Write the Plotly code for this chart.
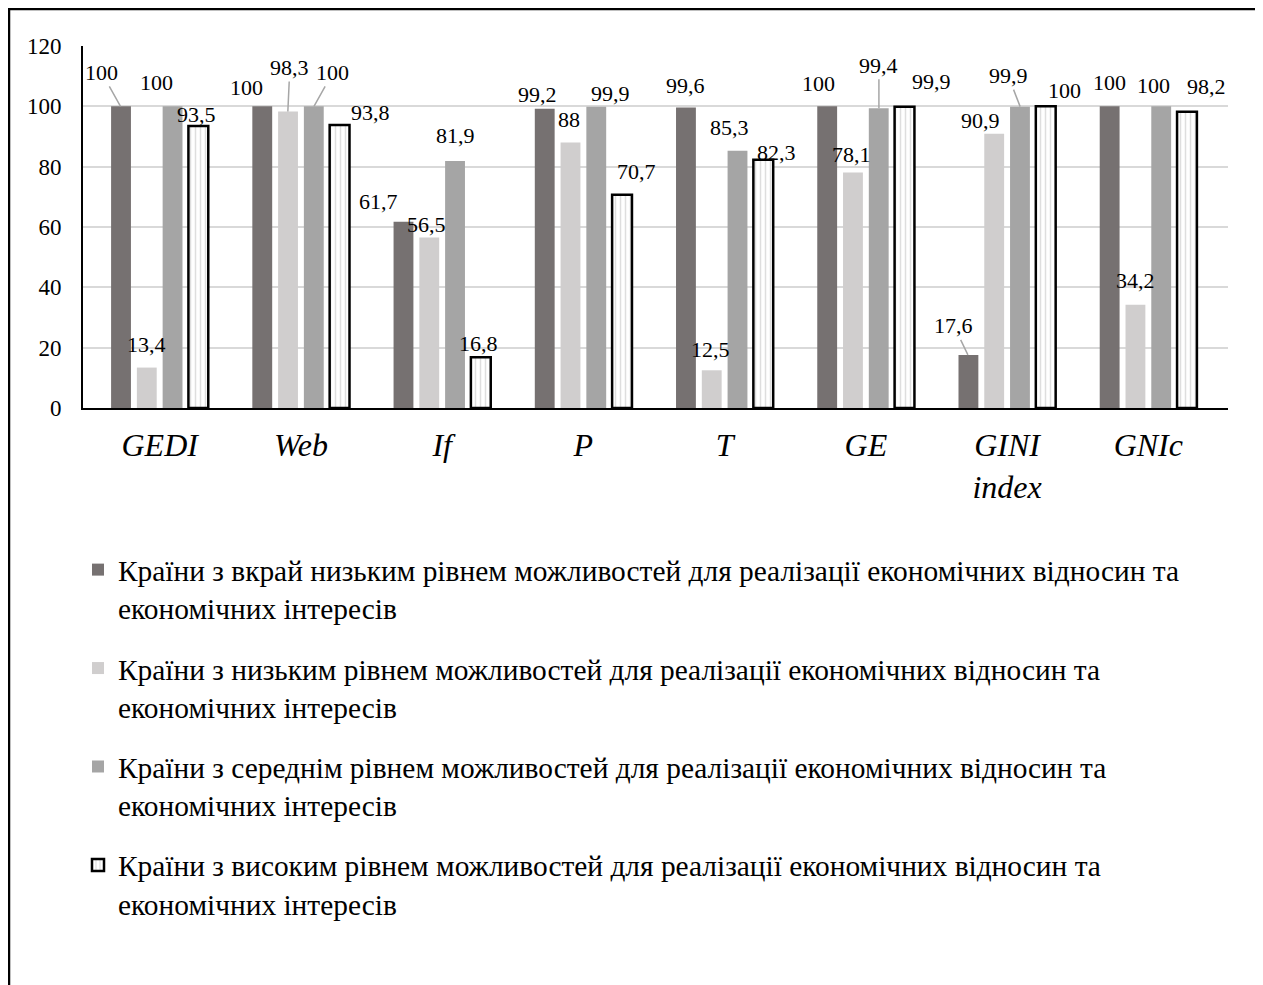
import plotly.graph_objects as go

categories = ["GEDI", "Web", "If", "P", "T", "GE", "GINI<br>index", "GNIc"]
series_names = [
    "Країни з вкрай низьким рівнем можливостей для реалізації економічних відносин та<br>економічних інтересів",
    "Країни з низьким рівнем можливостей для реалізації економічних відносин та<br>економічних інтересів",
    "Країни з середнім рівнем можливостей для реалізації економічних відносин та<br>економічних інтересів",
    "Країни з високим рівнем можливостей для реалізації економічних відносин та<br>економічних інтересів",
]
very_low = [100, 100, 61.7, 99.2, 99.6, 100, 17.6, 100]
low = [13.4, 98.3, 56.5, 88, 12.5, 78.1, 90.9, 34.2]
medium = [100, 100, 81.9, 99.9, 85.3, 99.4, 99.9, 100]
high = [93.5, 93.8, 16.8, 70.7, 82.3, 99.9, 100, 98.2]
y_ticks = [0, 20, 40, 60, 80, 100, 120]

# label placement style: pixel offset of each value label from the top centre
# of its bar (dx, dy), and whether a leader line is drawn
label_dx = [
    [-19, -15, -24, -7, 0, -8, -14, 0],
    [0, 2, -3, -1, -1, -1, -14, 0],
    [-16, 19, 0, 14, -8, 0, -12, -8],
    [-2, 30, -3, 14, 13, 26, 18, 19],
]
label_dy = [
    [-34, -19, -20, -14, -22, -23, -29, -24],
    [-23, -44, -13, -23, -21, -18, -13, -24],
    [-24, -34, -25, -13, -23, -43, -31, -21],
    [-11, -13, -14, -23, -7, -25, -16, -25],
]
leader = [
    [1, 0, 0, 0, 0, 0, 1, 0],
    [0, 1, 0, 0, 0, 0, 0, 0],
    [0, 1, 0, 0, 0, 1, 1, 0],
    [0, 0, 0, 0, 0, 0, 0, 0],
]

FONT = "Liberation Serif, Times New Roman, serif"


def fmt(v):
    return f"{v:g}".replace(".", ",")


series = [very_low, low, medium, high]
colors = ["#767171", "#d0cece", "#a5a5a5", "#ffffff"]

W, H = 1255, 977
L, R, T, B = 75, 35, 38, 577
BARGAP, BARGROUPGAP = 0.27, 0.23
pw, ph = W - L - R, H - T - B
slot = pw / len(categories) * (1 - BARGAP) / len(series)

fig = go.Figure()
for i, (name, vals, col) in enumerate(zip(series_names, series, colors)):
    marker = dict(color=col, line=dict(width=0))
    if i == 3:
        marker = dict(
            color="#ffffff",
            line=dict(color="#000000", width=2.5),
            pattern=dict(shape="|", fgcolor="#bdbdbd", bgcolor="#ffffff", size=5, solidity=0.3),
        )
    fig.add_trace(
        go.Bar(
            x=categories,
            y=vals,
            name=name,
            legendgroup=f"g{i}",
            marker=marker,
            hoverinfo="x+y",
        )
    )

annotations = []
for i, vals in enumerate(series):
    off = (i - (len(series) - 1) / 2) * slot
    for j, (cat, v) in enumerate(zip(categories, vals)):
        dx, dy = label_dx[i][j], label_dy[i][j]
        base = dict(
            x=cat,
            y=v,
            xref="x",
            yref="y",
            text=fmt(v),
            font=dict(family=FONT, size=22, color="#000000"),
        )
        if leader[i][j]:
            base.update(
                xshift=off,
                showarrow=True,
                arrowhead=0,
                arrowwidth=1.5,
                arrowcolor="#a6a6a6",
                standoff=0,
                ax=dx,
                ay=dy,
            )
        else:
            base.update(xshift=off + dx, yshift=-dy, showarrow=False)
        annotations.append(base)

fig.update_layout(
    width=W,
    height=H,
    margin=dict(l=L, r=R, t=T, b=B, autoexpand=False),
    paper_bgcolor="#ffffff",
    plot_bgcolor="#ffffff",
    barmode="group",
    bargap=BARGAP,
    bargroupgap=BARGROUPGAP,
    font=dict(family=FONT, color="#000000"),
    showlegend=True,
    annotations=annotations,
    legend=dict(
        xref="container",
        yref="container",
        x=70 / W,
        y=1 - 536 / H,
        xanchor="left",
        yanchor="top",
        orientation="v",
        valign="top",
        tracegroupgap=19,
        itemwidth=30,
        font=dict(family=FONT, size=29.4, color="#000000"),
        bgcolor="rgba(0,0,0,0)",
    ),
    xaxis=dict(
        showline=True,
        linecolor="#000000",
        linewidth=2,
        tickfont=dict(family=FONT, size=32, color="#000000", style="italic"),
        ticks="",
        ticklabelstandoff=8,
        showgrid=False,
        automargin=False,
    ),
    yaxis=dict(
        range=[0, 120],
        tickvals=y_ticks,
        showline=True,
        linecolor="#000000",
        linewidth=2,
        showgrid=True,
        gridcolor="#d9d9d9",
        gridwidth=2,
        zeroline=False,
        ticks="",
        ticklabelstandoff=15,
        tickfont=dict(family=FONT, size=23, color="#000000"),
        automargin=False,
    ),
)

# outer frame around the whole chart (pixel positions converted to paper units)
fx0, fx1, fy0, fy1 = 1, 1249, 1, 995
fig.add_shape(
    type="rect",
    xref="paper",
    yref="paper",
    x0=(fx0 - L) / pw,
    x1=(fx1 - L) / pw,
    y0=(H - B - fy1) / ph,
    y1=(H - B - fy0) / ph,
    line=dict(color="#000000", width=2.5),
    fillcolor="rgba(0,0,0,0)",
    layer="above",
)

fig.write_html("out.html")
